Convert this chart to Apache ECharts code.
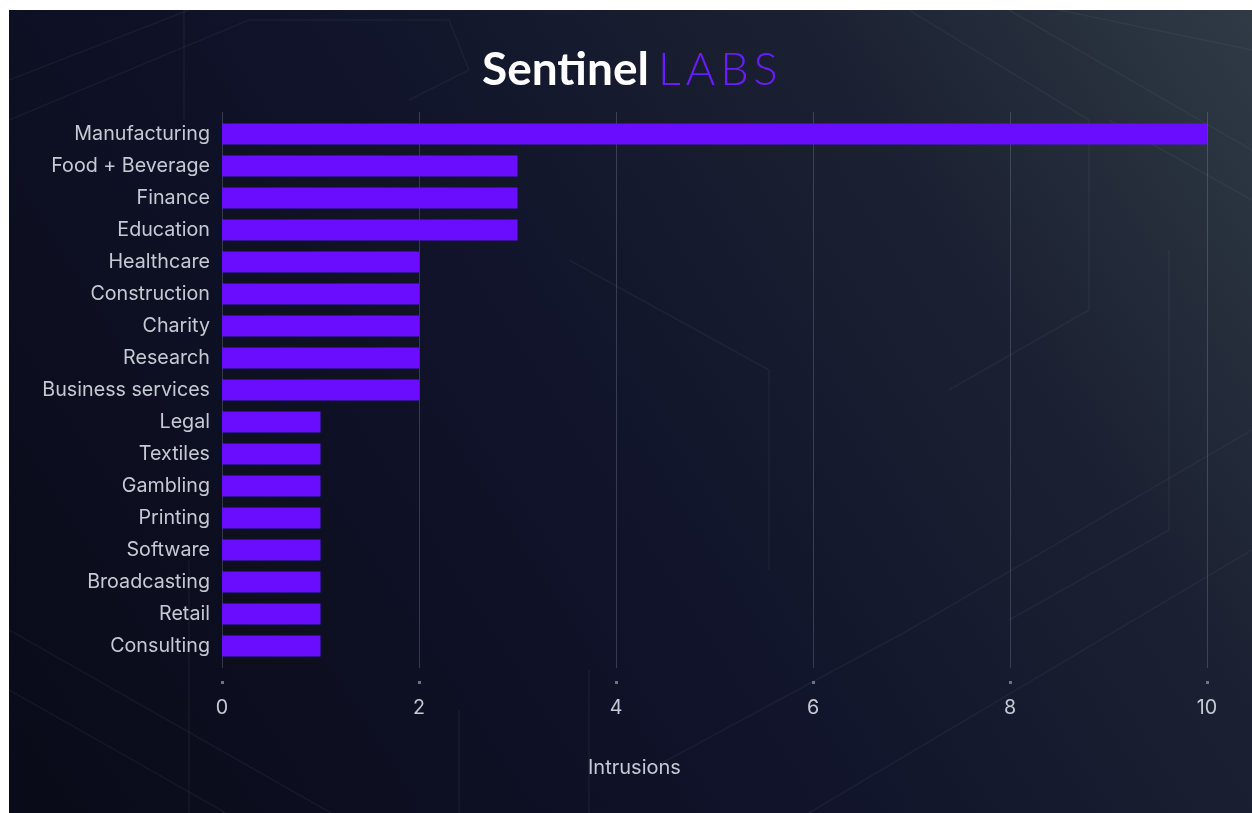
<!DOCTYPE html>
<html>
<head>
<meta charset="utf-8">
<script src="https://cdn.jsdelivr.net/npm/echarts@6/dist/echarts.min.js"></script>
<style>
html,body{margin:0;padding:0;background:#ffffff;width:1252px;height:813px;overflow:hidden;}
#chart{position:absolute;left:9px;top:10px;width:1243px;height:803px;}
</style>
</head>
<body>
<div id="chart"></div>
<script>
const categories = ["Manufacturing","Food + Beverage","Finance","Education","Healthcare","Construction","Charity","Research","Business services","Legal","Textiles","Gambling","Printing","Software","Broadcasting","Retail","Consulting"];
const intrusions = [10,3,3,3,2,2,2,2,2,1,1,1,1,1,1,1,1];
const xTicks = [0,2,4,6,8,10];
const titleMain = "Sentinel";
const titleSub = "LABS";
const xAxisTitle = "Intrusions";

const chart = echarts.init(document.getElementById('chart'), null, {renderer:'canvas'});

const FONT = 'Inter';
const LABEL_COLOR = '#c6cad3';
const hexLine = 'rgba(160,175,200,0.065)';
function seg(pts){
  return {type:'polyline', silent:true, z:-1, shape:{points:pts}, style:{stroke:hexLine, lineWidth:1.5, fill:null}};
}
const subLetters = titleSub.split('');
const subRich = subLetters.map(function(ch, i){
  return '{' + (i === 0 ? 'b0' : (i < subLetters.length - 1 ? 'b' : 'bl')) + '|' + ch + '}';
}).join('');

const option = {
  backgroundColor: {
    type:'linear', x:0, y:1, x2:1, y2:0,
    colorStops:[{offset:0,color:'#090b18'},{offset:0.45,color:'#10132a'},{offset:0.75,color:'#1b2132'},{offset:1,color:'#303a45'}]
  },
  animation:false,
  title:{
    text:'{a|' + titleMain + '}' + subRich,
    left:468, top:32,
    textStyle:{
      rich:{
        a:{fontFamily:'Lato', fontWeight:'bold', fontSize:46, color:'#ffffff'},
        b0:{fontFamily:'Lato', fontWeight:300, fontSize:45, color:'#6a1cff', padding:[0,5,0,9]},
        b:{fontFamily:'Lato', fontWeight:300, fontSize:45, color:'#6a1cff', padding:[0,5,0,0]},
        bl:{fontFamily:'Lato', fontWeight:300, fontSize:45, color:'#6a1cff'}
      }
    }
  },
  graphic:[
    seg([[0,70],[180,0]]),
    seg([[0,110],[240,10],[440,10],[460,60],[400,90]]),
    seg([[900,0],[1080,110],[1080,300],[940,380]]),
    seg([[1000,0],[1243,140]]),
    seg([[1050,0],[1243,40]]),
    seg([[1100,110],[1243,190]]),
    seg([[1160,240],[1160,520],[1000,610]]),
    seg([[0,620],[440,870]]),
    seg([[0,680],[300,850]]),
    seg([[180,550],[180,803]]),
    seg([[450,700],[450,803]]),
    seg([[580,660],[580,803]]),
    seg([[640,760],[900,620],[1243,420]]),
    seg([[800,803],[1243,540]]),
    seg([[560,250],[760,360],[760,560]]),
    seg([[175,0],[175,110]]),
    {type:'text', left:579, top:748, style:{text:xAxisTitle, fill:LABEL_COLOR, font:'20px ' + FONT}}
  ],
  grid:[
    {left:213, right:45, top:102, bottom:145},
    {left:213, right:45, top:108, bottom:151},
    {left:213, right:45, top:102, bottom:132}
  ],
  xAxis:[
    {
      gridIndex:0, type:'value', min:0, max:10, interval:2,
      axisLine:{show:false}, axisTick:{show:false}, axisLabel:{show:false},
      splitLine:{show:true, lineStyle:{color:'rgba(150,160,185,0.28)', width:1}}
    },
    {
      gridIndex:1, type:'value', min:0, max:10, interval:2,
      show:false, splitLine:{show:false}
    },
    {
      gridIndex:2, type:'value', min:0, max:10, interval:2,
      axisLine:{show:false},
      axisTick:{show:true, length:3, lineStyle:{color:'#6d7385', width:3}},
      axisLabel:{color:LABEL_COLOR, fontSize:19.7, fontFamily:FONT, margin:17,
        formatter:function(v){return xTicks.indexOf(v)>=0 ? String(v) : '';}},
      splitLine:{show:false}
    }
  ],
  yAxis:[
    {gridIndex:0, type:'value', show:false, splitLine:{show:false}},
    {
      gridIndex:1, type:'category', data:categories, inverse:true,
      axisLine:{show:false}, axisTick:{show:false},
      axisLabel:{color:LABEL_COLOR, fontSize:19.7, fontFamily:FONT, margin:12}
    },
    {gridIndex:2, type:'value', show:false, splitLine:{show:false}}
  ],
  series:[{
    type:'bar', xAxisIndex:1, yAxisIndex:1,
    data:intrusions, barWidth:21,
    itemStyle:{color:'#6a0dff'}
  }]
};
chart.setOption(option);
</script>
</body>
</html>
